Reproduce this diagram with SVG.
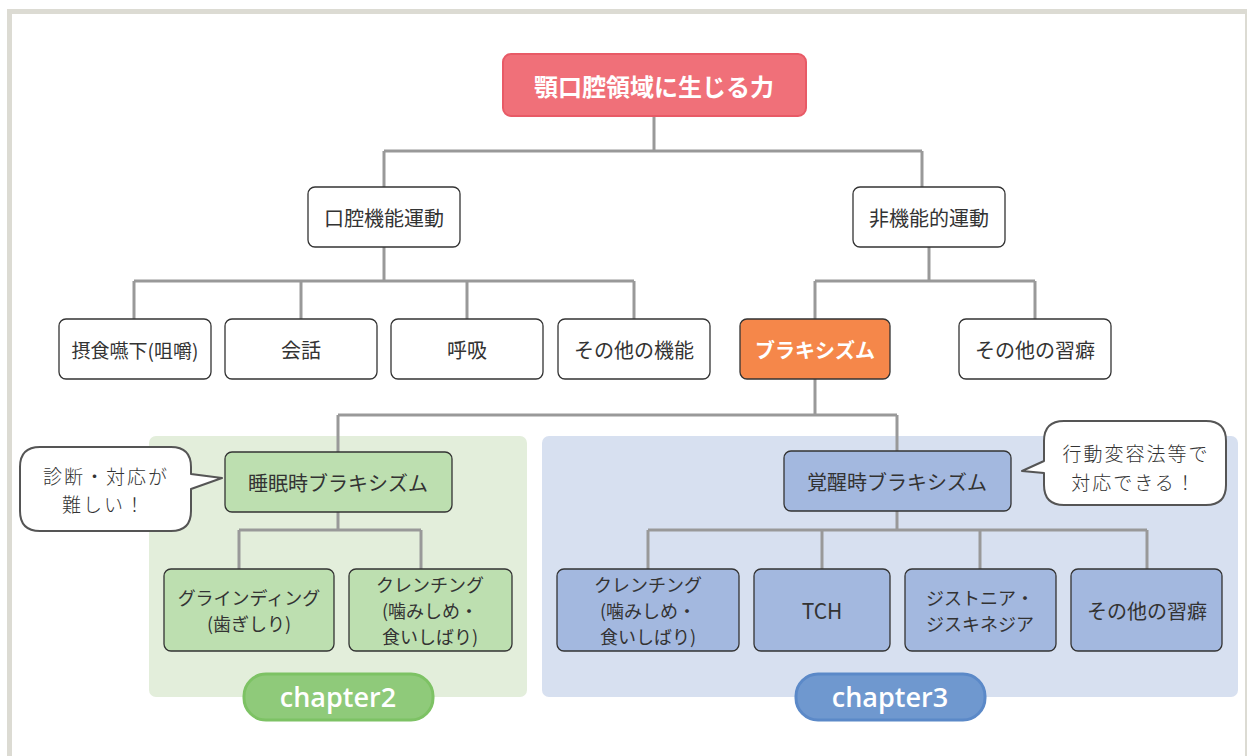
<svg xmlns="http://www.w3.org/2000/svg" width="1247" height="756" viewBox="0 0 1247 756">
<style>
text{font-family:"Noto Sans CJK JP","Noto Sans",sans-serif;fill:#333;font-size:20px;text-anchor:middle;dominant-baseline:central}
.ml{font-size:18px}
.node{stroke:#333;stroke-width:1.3}
.w{fill:#fff}
.g{fill:#bddfb0}
.b{fill:#a3b8df}
.wt{fill:#fff;font-weight:bold}
.conn{fill:none;stroke:#999;stroke-width:3}
.bub{fill:#fff;stroke:#555;stroke-width:2;stroke-linejoin:round}
.hand{font-weight:300;font-size:19px;letter-spacing:2px}
.chap{font-family:"Open Sans","Noto Sans",sans-serif;font-weight:600;font-size:27px;fill:#fff}
</style>
<rect x="0" y="0" width="1247" height="756" fill="#fff"/>
<rect x="9.5" y="11.5" width="1238" height="800" fill="#fff" stroke="#dcdbd3" stroke-width="5"/>
<rect id="panel-ch2" x="149" y="436" width="378" height="261" rx="7" fill="#e3eedb"/>
<rect id="panel-ch3" x="542" y="436" width="696" height="261" rx="7" fill="#d7e0f0"/>
<g id="connectors" class="conn">
<path d="M654 116V151M384 151H922M384 151V187M922 151V187"/>
<path d="M384 247V281M134 281H634M134 281V319M301 281V319M467 281V319M634 281V319"/>
<path d="M929 247V281M815 281H1035M815 281V319M1035 281V319"/>
<path d="M815 379V415M338 415H897M338 415V452M897 415V451"/>
<path d="M338 512V530M239 530H421M239 530V569M421 530V569"/>
<path d="M897 511V530M648 530H1147M648 530V569M822 530V569M980 530V569M1147 530V569"/>
</g>
<g id="n-root"><rect x="503" y="54" width="303" height="62" rx="8" fill="#f07079" stroke="#e85a66" stroke-width="2"/><text x="654" y="85" class="wt" style="font-size:24px">顎口腔領域に生じる力</text></g>
<g id="n-func"><rect class="node w" x="308" y="187" width="152" height="60" rx="7"/><text x="384" y="217">口腔機能運動</text></g>
<g id="n-nonfunc"><rect class="node w" x="853" y="187" width="152" height="60" rx="7"/><text x="929" y="217">非機能的運動</text></g>
<g id="n-swallow"><rect class="node w" x="59" y="319" width="152" height="60" rx="7"/><text x="135" y="349" style="font-size:19px">摂食嚥下(咀嚼)</text></g>
<g id="n-talk"><rect class="node w" x="225" y="319" width="152" height="60" rx="7"/><text x="301" y="349">会話</text></g>
<g id="n-breath"><rect class="node w" x="391" y="319" width="152" height="60" rx="7"/><text x="467" y="349">呼吸</text></g>
<g id="n-otherfunc"><rect class="node w" x="558" y="319" width="152" height="60" rx="7"/><text x="634" y="349">その他の機能</text></g>
<g id="n-brux"><rect x="740" y="319" width="150" height="60" rx="7" fill="#f5874a" stroke="#333" stroke-width="1.3"/><text x="815" y="349" class="wt">ブラキシズム</text></g>
<g id="n-otherhabit"><rect class="node w" x="959" y="319" width="152" height="60" rx="7"/><text x="1035" y="349">その他の習癖</text></g>
<g id="n-sleep"><rect class="node g" x="225" y="452" width="227" height="60" rx="7"/><text x="338" y="482">睡眠時ブラキシズム</text></g>
<g id="n-grind"><rect class="node g" x="164" y="569" width="170" height="82" rx="7"/><text x="249" y="597" class="ml">グラインディング<tspan x="249" dy="26">(歯ぎしり)</tspan></text></g>
<g id="n-clench1"><rect class="node g" x="349" y="569" width="163" height="82" rx="7"/><text x="430" y="584" class="ml">クレンチング<tspan x="430" dy="26">(噛みしめ・</tspan><tspan x="430" dy="26">食いしばり)</tspan></text></g>
<g id="n-awake"><rect class="node b" x="784" y="451" width="227" height="60" rx="7"/><text x="897" y="481">覚醒時ブラキシズム</text></g>
<g id="n-clench2"><rect class="node b" x="557" y="569" width="182" height="82" rx="7"/><text x="648" y="584" class="ml">クレンチング<tspan x="648" dy="26">(噛みしめ・</tspan><tspan x="648" dy="26">食いしばり)</tspan></text></g>
<g id="n-tch"><rect class="node b" x="754" y="569" width="136" height="82" rx="7"/><text x="822" y="610" style="font-size:21px">TCH</text></g>
<g id="n-dyst"><rect class="node b" x="905" y="569" width="151" height="82" rx="7"/><text x="980" y="597" class="ml">ジストニア・<tspan x="980" dy="26">ジスキネジア</tspan></text></g>
<g id="n-otherhabit2"><rect class="node b" x="1071" y="569" width="151" height="82" rx="7"/><text x="1147" y="610">その他の習癖</text></g>
<g id="bubble-left"><path class="bub" d="M40 447H171Q191 447 191 467V474L222 478L191 489V511Q191 531 171 531H40Q20 531 20 511V467Q20 447 40 447Z"/><text x="106" y="475" class="hand">診断・対応が<tspan x="104" dy="28">難しい！</tspan></text></g>
<g id="bubble-right"><path class="bub" d="M1064 421H1206Q1226 421 1226 441V485Q1226 505 1206 505H1064Q1044 505 1044 485V473L1022 471L1044 461V441Q1044 421 1064 421Z"/><text x="1136" y="452" class="hand">行動変容法等で<tspan x="1134" dy="29">対応できる！</tspan></text></g>
<g id="chapter2"><rect x="244" y="674" width="189" height="46" rx="22" fill="#8fca7a" stroke="#7dc264" stroke-width="3"/><text x="338" y="696" class="chap">chapter2</text></g>
<g id="chapter3"><rect x="796" y="674" width="189" height="46" rx="22" fill="#6f98cf" stroke="#5b89c8" stroke-width="3"/><text x="890" y="696" class="chap">chapter3</text></g>
</svg>
